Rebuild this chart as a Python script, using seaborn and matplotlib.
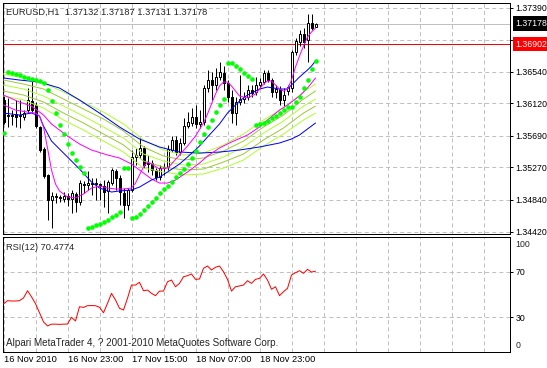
import matplotlib
matplotlib.use("Agg")
import matplotlib.pyplot as plt
import pandas as pd
import seaborn as sns

# ---------------- data ----------------
SYMBOL = "EURUSD,H1"
LAST_BAR = [1.37132, 1.37187, 1.37131, 1.37178]   # O H L C of the current bar
BID = 1.37178
LEVEL = 1.36902
RSI_PERIOD = 12
RSI_LAST = 70.4774
COPYRIGHT = "Alpari MetaTrader 4, ? 2001-2010 MetaQuotes Software Corp."

bars = list(range(79))
opens = [1.36164, 1.35951, 1.35965, 1.35978, 1.35951, 1.35938, 1.36031, 1.36151, 1.36098, 1.35806,
         1.35515, 1.35170, 1.34838, 1.34878, 1.34878, 1.34852, 1.34891, 1.34852, 1.34918, 1.34811,
         1.35050, 1.35037, 1.35063, 1.35063, 1.35050, 1.35023, 1.34958, 1.35063, 1.35223, 1.35130,
         1.34931, 1.34772, 1.34971, 1.35408, 1.35435, 1.35528, 1.35315, 1.35328, 1.35236, 1.35143,
         1.35262, 1.35275, 1.35501, 1.35634, 1.35474, 1.35594, 1.35819, 1.35859, 1.35938, 1.35846,
         1.35872, 1.36323, 1.36429, 1.36363, 1.36469, 1.36522, 1.36389, 1.36204, 1.35991, 1.36137,
         1.36177, 1.36204, 1.36297, 1.36270, 1.36363, 1.36402, 1.36522, 1.36429, 1.36270, 1.36310,
         1.36164, 1.36283, 1.36323, 1.36800, 1.36933, 1.37039, 1.36960, 1.37185, 1.37132]
highs = [1.36231, 1.36191, 1.36031, 1.36164, 1.36164, 1.36031, 1.36323, 1.36429, 1.36137, 1.35819,
         1.35541, 1.35183, 1.34944, 1.34931, 1.34905, 1.34944, 1.34931, 1.34971, 1.34944, 1.35103,
         1.35090, 1.35223, 1.35130, 1.35130, 1.35063, 1.35103, 1.35103, 1.35262, 1.35249, 1.35170,
         1.34997, 1.34997, 1.35501, 1.35528, 1.35660, 1.35554, 1.35435, 1.35368, 1.35262, 1.35302,
         1.35328, 1.35568, 1.35686, 1.35686, 1.35660, 1.35925, 1.36004, 1.36058, 1.36098, 1.36031,
         1.36363, 1.36562, 1.36535, 1.36588, 1.36667, 1.36614, 1.36429, 1.36297, 1.36204, 1.36496,
         1.36270, 1.36363, 1.36363, 1.36469, 1.36456, 1.36562, 1.36562, 1.36456, 1.36363, 1.36349,
         1.36323, 1.36363, 1.36827, 1.36986, 1.37092, 1.37119, 1.37304, 1.37304, 1.37187]
lows = [1.35846, 1.35806, 1.35833, 1.35806, 1.35793, 1.35899, 1.35991, 1.36004, 1.35793, 1.35474,
        1.35130, 1.34573, 1.34467, 1.34798, 1.34811, 1.34811, 1.34758, 1.34665, 1.34678, 1.34772,
        1.34931, 1.34971, 1.34905, 1.34838, 1.34838, 1.34745, 1.34665, 1.35037, 1.34971, 1.34772,
        1.34599, 1.34705, 1.34944, 1.35302, 1.35395, 1.35262, 1.35209, 1.35170, 1.35103, 1.35103,
        1.35170, 1.35236, 1.35474, 1.35435, 1.35435, 1.35568, 1.35793, 1.35819, 1.35793, 1.35793,
        1.35833, 1.36270, 1.36164, 1.36297, 1.36429, 1.36297, 1.36137, 1.35859, 1.35833, 1.36098,
        1.36124, 1.36164, 1.36204, 1.36231, 1.36323, 1.36376, 1.36402, 1.36204, 1.36191, 1.36098,
        1.36084, 1.36231, 1.36270, 1.36761, 1.36880, 1.36854, 1.36667, 1.37092, 1.37131]
closes = [1.35872, 1.35965, 1.35951, 1.35938, 1.35965, 1.35991, 1.36164, 1.36031, 1.35819, 1.35501,
          1.35156, 1.34838, 1.34891, 1.34885, 1.34865, 1.34891, 1.34852, 1.34931, 1.34811, 1.35063,
          1.35037, 1.35063, 1.35056, 1.35050, 1.35023, 1.34944, 1.35076, 1.35236, 1.35130, 1.34944,
          1.34772, 1.34971, 1.35408, 1.35435, 1.35528, 1.35302, 1.35328, 1.35236, 1.35143, 1.35262,
          1.35275, 1.35515, 1.35634, 1.35474, 1.35594, 1.35819, 1.35872, 1.35938, 1.35846, 1.35872,
          1.36323, 1.36429, 1.36363, 1.36469, 1.36535, 1.36389, 1.36204, 1.35991, 1.36137, 1.36177,
          1.36204, 1.36297, 1.36257, 1.36363, 1.36402, 1.36522, 1.36429, 1.36270, 1.36310, 1.36164,
          1.36231, 1.36336, 1.36800, 1.36947, 1.37039, 1.36933, 1.37185, 1.37119, 1.37178]

# Parabolic SAR, one value per bar
sar = [1.35726, 1.36535, 1.36522, 1.36509, 1.36496, 1.36469, 1.36456, 1.36442, 1.36429, 1.36416,
       1.36389, 1.36297, 1.36151, 1.35991, 1.35833, 1.35713, 1.35581, 1.35461, 1.35368, 1.35275,
       1.35196, 1.34467, 1.34480, 1.34507, 1.34520, 1.34546, 1.34573, 1.34612, 1.34639, 1.34678,
       1.35262, 1.35262, 1.34599, 1.34612, 1.34652, 1.34705, 1.34758, 1.34811, 1.34865, 1.34931,
       1.34984, 1.35023, 1.35076, 1.35143, 1.35196, 1.35249, 1.35315, 1.35395, 1.35488, 1.35607,
       1.35713, 1.35806, 1.35899, 1.36004, 1.36098, 1.36177, 1.36654, 1.36654, 1.36614, 1.36575,
       1.36522, 1.36482, 1.36442, 1.35833, 1.35846, 1.35859, 1.35886, 1.35925, 1.35951, 1.35991,
       1.36031, 1.36071, 1.36071, 1.36137, 1.36204, 1.36323, 1.36429, 1.36575, 1.36681]

# fast magenta MA
mg1_bars = [0, 3, 6, 8, 9, 10, 11, 12, 13, 14, 16, 18, 20, 22, 24, 26, 28, 30, 32, 33,
            34, 35, 36, 37, 39, 41, 42, 44, 46, 48, 50, 51, 52, 53, 54, 55, 56, 57, 58, 59,
            61, 63, 64, 65, 66, 67, 68, 69, 70, 71, 72, 73, 74, 75, 76, 77, 78]
mg1_vals = [1.36098, 1.36031, 1.36004, 1.35991, 1.35951, 1.35806, 1.35528, 1.35236, 1.35050, 1.34958,
            1.34878, 1.34865, 1.34918, 1.34997, 1.35023, 1.34997, 1.34984, 1.34984, 1.34997, 1.35063,
            1.35170, 1.35275, 1.35342, 1.35315, 1.35249, 1.35262, 1.35315, 1.35435, 1.35554, 1.35686,
            1.35859, 1.35978, 1.36111, 1.36244, 1.36350, 1.36402, 1.36402, 1.36350, 1.36283, 1.36217,
            1.36191, 1.36244, 1.36310, 1.36376, 1.36416, 1.36416, 1.36363, 1.36310, 1.36283, 1.36310,
            1.36429, 1.36602, 1.36747, 1.36880, 1.36999, 1.37066, 1.37119]
# fast blue MA
bl2_bars = [0, 4, 7, 9, 10, 12, 15, 19, 22, 24, 27, 29, 32, 34, 37, 39, 41, 44, 46, 49,
            51, 54, 56, 59, 61, 64, 66, 69, 71, 72, 74, 76, 77, 78]
bl2_vals = [1.35991, 1.35965, 1.35991, 1.35951, 1.35819, 1.35620, 1.35461, 1.35249, 1.35077, 1.34997,
            1.34944, 1.34958, 1.34971, 1.35010, 1.35103, 1.35143, 1.35209, 1.35315, 1.35408, 1.35554,
            1.35673, 1.35846, 1.35991, 1.36151, 1.36230, 1.36310, 1.36336, 1.36310, 1.36310, 1.36363,
            1.36469, 1.36562, 1.36615, 1.36681]
# slow blue MA
bl1_bars = [0, 4, 9, 14, 19, 24, 29, 34, 39, 44, 49, 54, 59, 64, 69, 72, 74, 76, 78]
bl1_vals = [1.36456, 1.36429, 1.36402, 1.36323, 1.36164, 1.35991, 1.35806, 1.35647, 1.35541, 1.35474,
            1.35461, 1.35474, 1.35501, 1.35541, 1.35594, 1.35647, 1.35700, 1.35780, 1.35859]
# slow magenta MA
mg2_bars = [0, 4, 7, 10, 12, 16, 19, 22, 26, 29, 32, 34, 37, 39, 41, 43, 46, 49, 51, 54,
            57, 61, 64, 66, 69, 71, 74, 76, 78]
mg2_vals = [1.36230, 1.36137, 1.36084, 1.35965, 1.35846, 1.35686, 1.35581, 1.35501, 1.35435, 1.35395,
            1.35315, 1.35236, 1.35117, 1.35063, 1.35063, 1.35103, 1.35209, 1.35328, 1.35421, 1.35528,
            1.35607, 1.35700, 1.35806, 1.35899, 1.36031, 1.36098, 1.36217, 1.36323, 1.36456]
# yellow-green MA ribbon
rib_bars = [0, 5, 10, 15, 20, 25, 30, 35, 40, 45, 50, 55, 60, 65, 70, 75, 78]
rib1 = [1.36509, 1.36456, 1.36389, 1.36270, 1.36137, 1.36004, 1.35846, 1.35634, 1.35501, 1.35435,
        1.35461, 1.35568, 1.35713, 1.35899, 1.36058, 1.36270, 1.36376]
rib2 = [1.36429, 1.36376, 1.36310, 1.36177, 1.36044, 1.35912, 1.35753, 1.35541, 1.35421, 1.35368,
        1.35395, 1.35488, 1.35620, 1.35806, 1.35965, 1.36177, 1.36283]
rib3 = [1.36363, 1.36310, 1.36217, 1.36084, 1.35951, 1.35806, 1.35660, 1.35448, 1.35355, 1.35302,
        1.35315, 1.35408, 1.35541, 1.35726, 1.35886, 1.36084, 1.36177]
rib4 = [1.36283, 1.36230, 1.36137, 1.35991, 1.35859, 1.35713, 1.35568, 1.35355, 1.35275, 1.35236,
        1.35249, 1.35342, 1.35448, 1.35634, 1.35793, 1.35991, 1.36084]
rib5 = [1.36217, 1.36164, 1.36058, 1.35899, 1.35766, 1.35620, 1.35474, 1.35262, 1.35209, 1.35170,
        1.35183, 1.35262, 1.35368, 1.35554, 1.35713, 1.35899, 1.35991]

rsi = [41.7, 44.6, 44.3, 44.3, 44.6, 47.0, 53.3, 48.0, 42.0, 34.0,
       26.0, 22.4, 24.0, 24.0, 23.8, 24.0, 24.1, 30.0, 26.8, 39.3,
       38.7, 40.2, 40.3, 40.2, 38.8, 34.0, 42.3, 51.0, 45.2, 37.9,
       36.4, 46.7, 58.3, 58.3, 60.7, 53.3, 53.9, 51.0, 49.0, 53.0,
       53.0, 61.2, 62.7, 56.8, 59.8, 65.6, 66.5, 68.0, 63.3, 63.6,
       73.0, 75.0, 71.5, 73.9, 75.0, 70.0, 63.3, 53.0, 56.8, 57.5,
       58.3, 62.1, 59.8, 63.3, 64.2, 68.0, 62.7, 54.6, 56.8, 49.0,
       52.5, 55.4, 67.1, 69.1, 70.9, 68.6, 72.1, 69.7, 70.4774]

price_ticks = [1.34420, 1.34840, 1.35270, 1.35690, 1.36120, 1.36540, 1.36960, 1.37390]
grid_bars = [0, 8, 16, 24, 32, 40, 48, 56, 64, 72, 80, 88, 96, 104, 112, 120]
x_label_bars = [0, 16, 32, 48, 64]
x_labels = ["16 Nov 2010", "16 Nov 23:00", "17 Nov 15:00", "18 Nov 07:00", "18 Nov 23:00"]
rsi_grid = [30, 70]

# ---------------- style ----------------
sns.set_style("white")
plt.rcParams["font.family"] = ["Liberation Sans", "DejaVu Sans"]
plt.rcParams["lines.scale_dashes"] = False
FS = 6.7      # general text
FSC = 7.1     # copyright line
FSP = 6.3     # price scale labels
LW = 0.72
GRID = dict(color="#C0C0C0", linestyle=(0, (2.9, 2.2)), linewidth=LW)

W, H = 547, 368
fig = plt.figure(figsize=(W / 100, H / 100), dpi=100, facecolor="white")
ax = fig.add_axes([2.5 / W, 134.5 / H, 507 / W, 231 / H])
axr = fig.add_axes([2.5 / W, 16.5 / H, 507 / W, 115 / H])

for a in (ax, axr):
    a.set_facecolor("white")
    for s in a.spines.values():
        s.set_color("black")
        s.set_linewidth(LW)
    a.set_xlim(-0.25, 126.5)
    a.set_axisbelow(True)

ax.set_ylim(1.34394, 1.37457)
axr.set_ylim(0, 100.9)

# grid
ax.set_xticks(grid_bars)
ax.tick_params(axis="x", length=0, labelbottom=False)
ax.grid(axis="x", **GRID)
ax.yaxis.tick_right()
ax.set_yticks(price_ticks)
ax.set_yticklabels([f"{v:.5f}" for v in price_ticks])
ax.tick_params(axis="y", length=2.16, width=LW, pad=2.16, labelsize=FSP, colors="black")
ax.grid(axis="y", **GRID)

axr.set_xticks(grid_bars, minor=True)
axr.set_xticks(x_label_bars)
axr.set_xticklabels(x_labels, ha="left")
axr.tick_params(axis="x", which="major", length=2.16, width=LW, pad=0.6, labelsize=FS, colors="black")
axr.tick_params(axis="x", which="minor", length=0)
axr.grid(axis="x", which="both", **GRID)
axr.yaxis.tick_right()
axr.set_yticks(rsi_grid)
axr.set_yticklabels([str(v) for v in rsi_grid])
axr.tick_params(axis="y", length=2.16, width=LW, pad=2.16, labelsize=FSP, colors="black")
axr.grid(axis="y", **GRID)

# bid and level lines
ax.axhline(BID, color="#C0C0C0", lw=LW, zorder=1)
ax.axhline(LEVEL, color="#FF0000", lw=LW, zorder=1)

# candles
df = pd.DataFrame({"bar": bars, "open": opens, "high": highs, "low": lows, "close": closes})
up = df["close"] >= df["open"]
ax.vlines(df["bar"], df["low"], df["high"], color="black", lw=LW, zorder=2)
ax.bar(df.loc[up, "bar"], (df["close"] - df["open"])[up], bottom=df.loc[up, "open"], width=0.5,
       facecolor="white", edgecolor="black", linewidth=LW, zorder=2.2)
ax.bar(df.loc[~up, "bar"], (df["close"] - df["open"])[~up], bottom=df.loc[~up, "open"], width=0.5,
       facecolor="black", edgecolor="black", linewidth=LW, zorder=2.2)

# moving averages
rib_cols = ["#ADFF2F", "#9ACD32", "#ADFF2F", "#9ACD32", "#ADFF2F"]
for vals, c in zip([rib1, rib2, rib3, rib4, rib5], rib_cols):
    sns.lineplot(x=rib_bars, y=vals, ax=ax, color=c, lw=LW, zorder=3)
sns.lineplot(x=bl1_bars, y=bl1_vals, ax=ax, color="#0000FF", lw=LW, zorder=3.1)
sns.lineplot(x=mg2_bars, y=mg2_vals, ax=ax, color="#FF00FF", lw=LW, zorder=3.1)
sns.lineplot(x=bl2_bars, y=bl2_vals, ax=ax, color="#0000FF", lw=LW, zorder=3.2)
sns.lineplot(x=mg1_bars, y=mg1_vals, ax=ax, color="#FF00FF", lw=LW, zorder=3.2)

# parabolic SAR
sns.scatterplot(x=bars, y=sar, ax=ax, color="#00FF00", marker="o", s=11, linewidth=0, zorder=4)

# RSI
sns.lineplot(x=bars, y=rsi, ax=axr, color="#FF0000", lw=LW, zorder=3)

for a in (ax, axr):
    a.set_xlabel("")
    a.set_ylabel("")

# price boxes on the scale
ax.annotate(f"{BID:.5f}", xy=(1, BID), xycoords=("axes fraction", "data"), xytext=(4.3, 0),
            textcoords="offset points", ha="left", va="center", fontsize=FSP, color="white",
            bbox=dict(boxstyle="square,pad=0.3", fc="black", ec="none"), annotation_clip=False, zorder=10)
ax.annotate(f"{LEVEL:.5f}", xy=(1, LEVEL), xycoords=("axes fraction", "data"), xytext=(4.3, 0),
            textcoords="offset points", ha="left", va="center", fontsize=FSP, color="white",
            bbox=dict(boxstyle="square,pad=0.3", fc="#FF0000", ec="none"), annotation_clip=False, zorder=10)

# RSI scale extremes
axr.annotate("100", xy=(1, 100), xycoords=("axes fraction", "data"), xytext=(4.3, -6.5),
             textcoords="offset points", ha="left", va="baseline", fontsize=FSP, annotation_clip=False)
axr.annotate("0", xy=(1, 0), xycoords=("axes fraction", "data"), xytext=(4.3, 2.5),
             textcoords="offset points", ha="left", va="baseline", fontsize=FSP, annotation_clip=False)

# titles
o, h, l, c = LAST_BAR
fig.text(6 / W, 1 - 14.7 / H, f"{SYMBOL}  {o:.5f} {h:.5f} {l:.5f} {c:.5f}", fontsize=FS,
         ha="left", va="baseline")
fig.text(6 / W, 1 - 249.5 / H, f"RSI({RSI_PERIOD}) {RSI_LAST:.4f}", fontsize=FS, ha="left", va="baseline")
fig.text(6 / W, 1 - 346 / H, COPYRIGHT, fontsize=FSC, ha="left", va="baseline")

fig.savefig("out.png", dpi=100, facecolor="white")
